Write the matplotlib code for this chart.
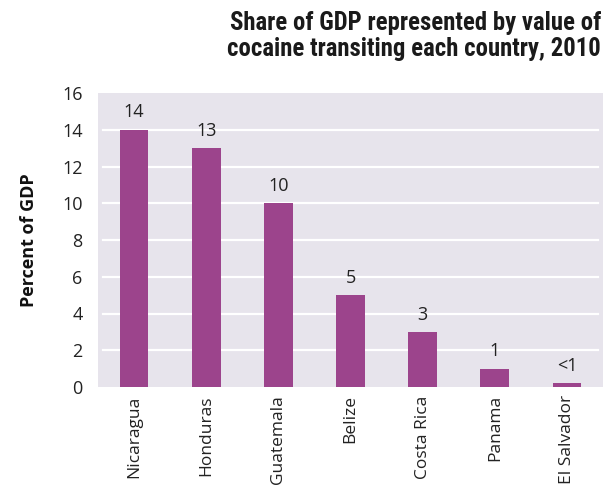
import matplotlib
matplotlib.use("Agg")
import matplotlib.pyplot as plt

countries = ["Nicaragua", "Honduras", "Guatemala", "Belize", "Costa Rica", "Panama", "El Salvador"]
share_pct = [14, 13, 10, 5, 3, 1, 0.2]
bar_labels = ["14", "13", "10", "5", "3", "1", "<1"]

plt.rcParams["font.family"] = ["Open Sans", "DejaVu Sans"]

fig = plt.figure(figsize=(6.14, 4.93), dpi=100)
ax = fig.add_axes([98 / 614, 1 - 387 / 493, 505 / 614, 294 / 493])

bg = "#E7E4EC"
bar_color = "#9C448C"
ax.set_facecolor(bg)

ax.set_ylim(0, 16)
ax.set_xlim(-0.5, len(countries) - 0.5)
ax.set_yticks(range(0, 17, 2))
for y in range(2, 16, 2):
    ax.axhline(y, xmin=0.01, xmax=0.99, color="white", lw=1.6, zorder=1)

x = list(range(len(countries)))
ax.bar(x, share_pct, width=0.4, color=bar_color, zorder=2)
for xi, v, lab in zip(x, share_pct, bar_labels):
    ax.text(xi, v + 0.45, lab, ha="center", va="bottom", fontsize=13, color="#222222")

ax.set_xticks(x)
ax.set_xticklabels(countries, rotation=90, fontsize=12.5, color="#222222")
ax.tick_params(axis="y", labelsize=13, colors="#222222", length=0, pad=11)
ax.tick_params(axis="x", length=0, pad=6)
for s in ax.spines.values():
    s.set_visible(False)

ax.set_ylabel("Percent of GDP", fontsize=13, fontweight="bold", color="#111111", labelpad=17)

fig.text(601 / 614, 1 - 11 / 493, "Share of GDP represented by value of\ncocaine transiting each country, 2010",
         ha="right", va="top", fontsize=17.8, fontweight="bold",
         family=["Roboto Condensed", "Liberation Sans Narrow", "Archivo Narrow", "Liberation Sans"],
         color="#1a1a1a", linespacing=1.08)

fig.savefig("out.png", dpi=100, facecolor="white")
